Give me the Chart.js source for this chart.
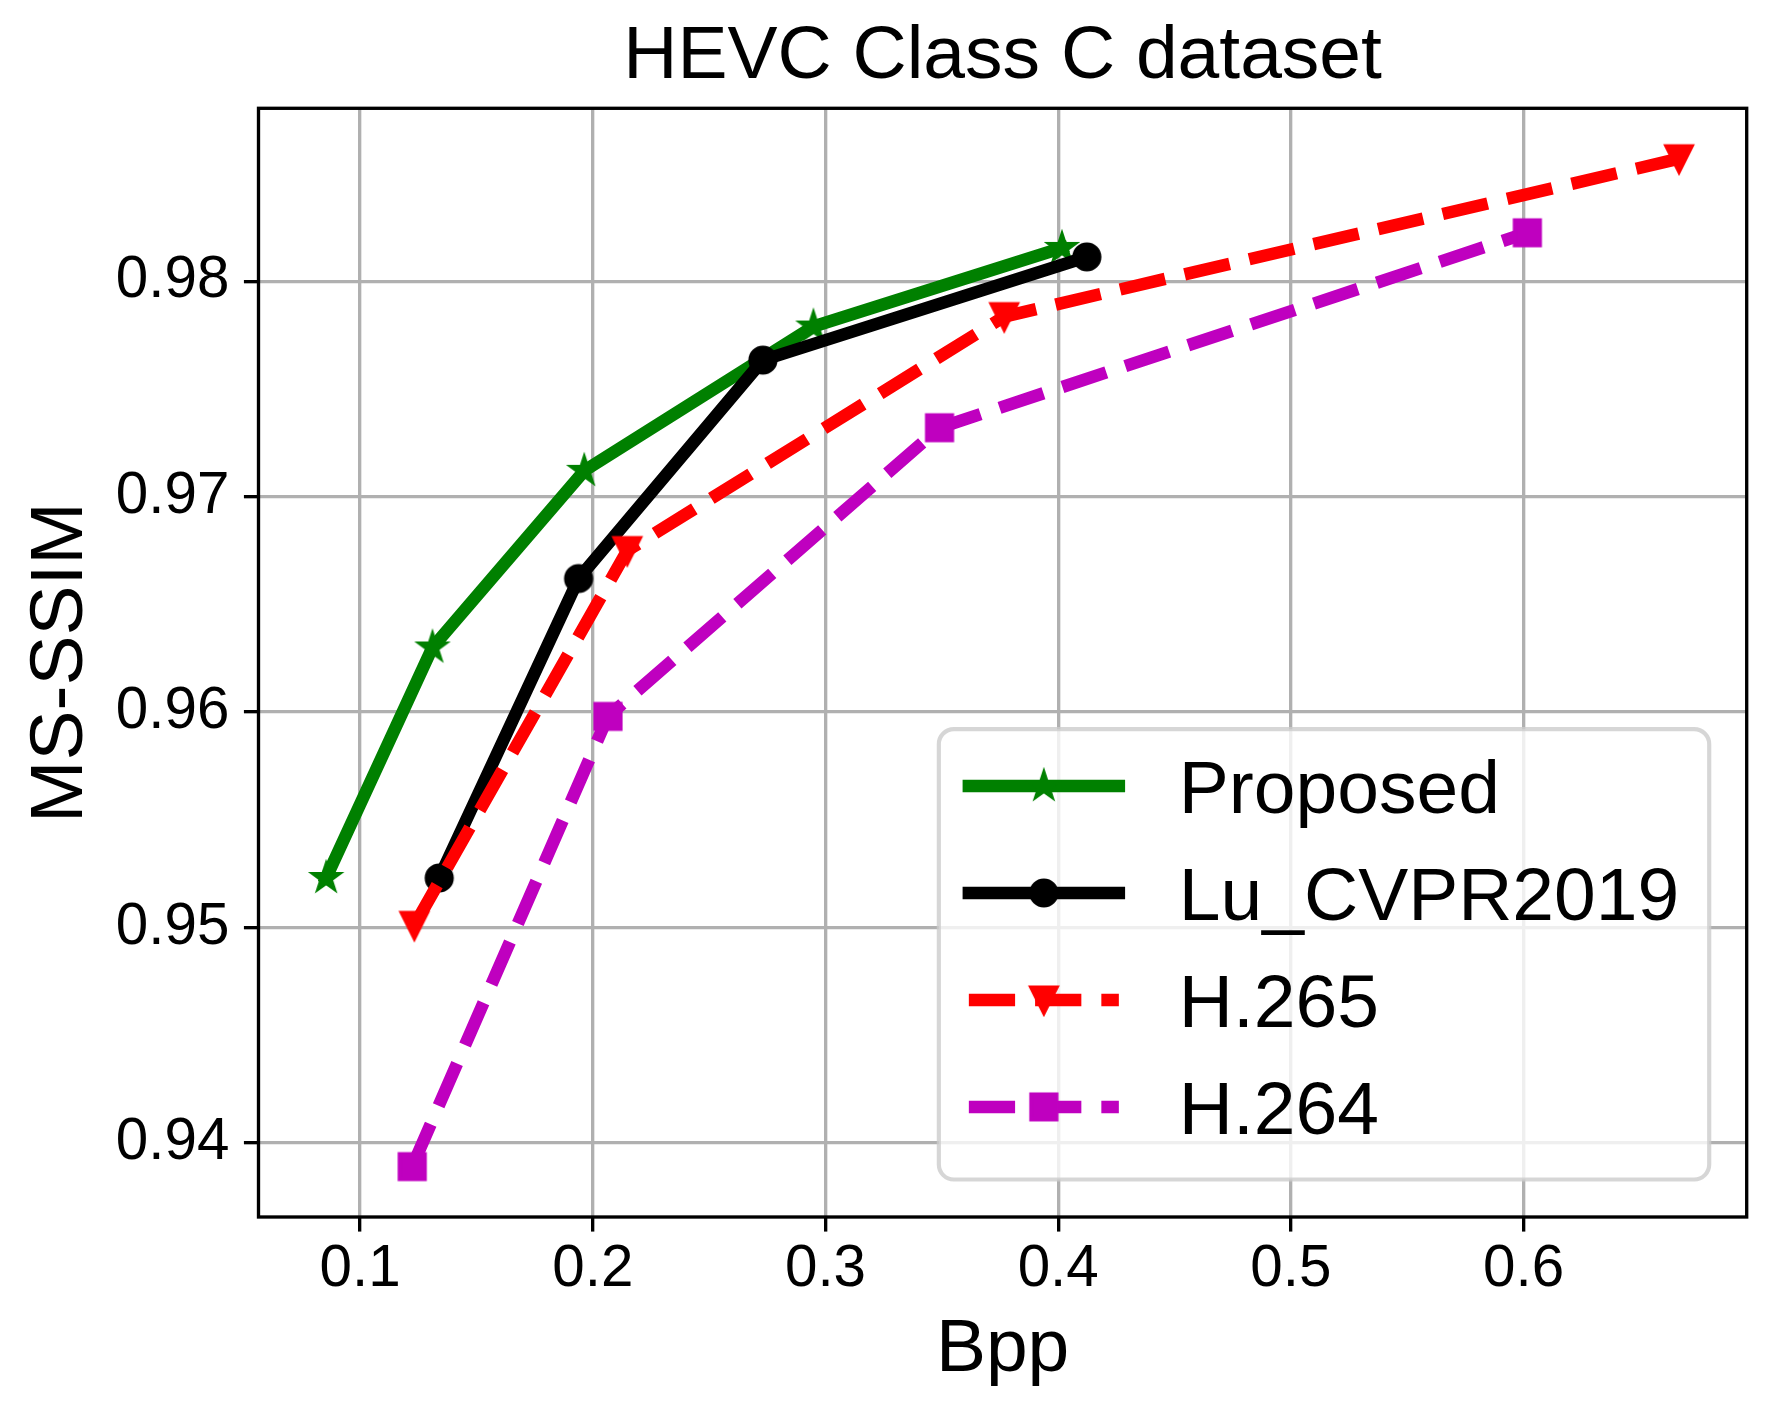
<!DOCTYPE html>
<html lang="en">
<head>
  <meta charset="UTF-8" />
  <title>HEVC Class C dataset</title>
  <script src="https://cdn.jsdelivr.net/npm/chart.js@4.4.1/dist/chart.umd.min.js"></script>
  <style>
    body {
      margin: 0;
      padding: 0;
      background: #fff;
    }
    #wrap {
      width: 1776px;
      height: 1416px;
    }
  </style>
</head>
<body>
  <div id="wrap"><canvas id="rdChart"></canvas></div>

  <script>
    // values
    const bppProposed  = [0.0854, 0.1311, 0.1963, 0.2948, 0.4016];
    const ssimProposed = [0.9523, 0.9630, 0.9712, 0.9779, 0.98155];

    const bppLu  = [0.1340, 0.1939, 0.2731, 0.4123];
    const ssimLu = [0.9523, 0.9662, 0.97634, 0.98113];

    const bppH265  = [0.1233, 0.2148, 0.3768, 0.6668];
    const ssimH265 = [0.9501, 0.9675, 0.97836, 0.98569];

    const bppH264  = [0.1224, 0.2065, 0.3490, 0.6016];
    const ssimH264 = [0.9389, 0.9598, 0.9732, 0.98225];

    const xTicks = [0.1, 0.2, 0.3, 0.4, 0.5, 0.6];
    const yTicks = [0.94, 0.95, 0.96, 0.97, 0.98];

    const FONT = "'Liberation Sans', Arial, sans-serif";
    const PT = 300 / 72;          // the original was saved at 300 dpi
    const LW = 3 * PT;            // line width 3pt
    const DASH = [3.7 * LW, 1.6 * LW];

    Chart.defaults.font.family = FONT;
    Chart.defaults.color = '#000';

    // matplotlib-like markers (ms = 6pt, edge 1pt)
    function makeMarker(shape, color) {
      const R = 3 * PT, S = 46;
      const c = document.createElement('canvas');
      c.width = S; c.height = S;
      const g = c.getContext('2d');
      g.translate(S / 2, S / 2);
      g.beginPath();
      if (shape === 'circle') {
        g.arc(0, 0, R, 0, Math.PI * 2);
      } else if (shape === 'square') {
        g.rect(-R, -R, 2 * R, 2 * R);
      } else if (shape === 'triDown') {
        g.moveTo(0, R); g.lineTo(-R, -R); g.lineTo(R, -R); g.closePath();
      } else if (shape === 'star') {
        for (let k = 0; k < 10; k++) {
          const r = k % 2 ? R * 0.381966 : R;
          const a = -Math.PI / 2 + k * Math.PI / 5;
          g.lineTo(r * Math.cos(a), r * Math.sin(a));
        }
        g.closePath();
      }
      g.fillStyle = color;
      g.fill();
      g.lineWidth = PT;
      g.strokeStyle = color;
      g.lineJoin = shape === 'circle' ? 'round' : 'miter';
      g.stroke();
      return c;
    }

    // extend the data range by 5% like matplotlib does
    function padded(arrs) {
      const all = [].concat(...arrs);
      const lo = Math.min(...all), hi = Math.max(...all);
      const m = (hi - lo) * 0.05;
      return [lo - m, hi + m];
    }
    const [xMin, xMax] = padded([bppProposed, bppLu, bppH265, bppH264]);
    const [yMin, yMax] = padded([ssimProposed, ssimLu, ssimH265, ssimH264]);

    const toPoints = (xs, ys) => xs.map((x, i) => ({x: x, y: ys[i]}));

    // box round the plot area, spines above the lines
    const frame = {
      id: 'frame',
      afterDatasetsDraw(chart) {
        const {ctx, chartArea: a} = chart;
        ctx.save();
        ctx.lineWidth = 0.8 * PT;
        ctx.strokeStyle = '#000';
        ctx.strokeRect(a.left, a.top, a.right - a.left, a.bottom - a.top);
        ctx.restore();
      }
    };

    // legend in the lower right corner of the axes
    const legendBox = {
      id: 'legendBox',
      afterDraw(chart) {
        const {ctx, chartArea} = chart;
        const fs = 18 * PT;
        const sets = chart.data.datasets;
        ctx.save();
        ctx.font = fs + 'px ' + FONT;
        const textW = Math.max(...sets.map(d => ctx.measureText(d.label).width));
        const pad = 0.4 * fs, handleLen = 2 * fs, textPad = 0.8 * fs;
        const rowH = 0.926 * fs, gap = 0.5 * fs;
        const w = 2 * pad + handleLen + textPad + textW;
        const h = 2 * pad + sets.length * rowH + (sets.length - 1) * gap;
        const right = chartArea.right - 0.5 * fs;
        const bottom = chartArea.bottom - 0.5 * fs;
        const left = right - w, top = bottom - h, r = 0.2 * fs;

        ctx.beginPath();
        ctx.moveTo(left + r, top);
        ctx.arcTo(right, top, right, bottom, r);
        ctx.arcTo(right, bottom, left, bottom, r);
        ctx.arcTo(left, bottom, left, top, r);
        ctx.arcTo(left, top, right, top, r);
        ctx.closePath();
        ctx.fillStyle = 'rgba(255,255,255,0.8)';
        ctx.fill();
        ctx.lineWidth = PT;
        ctx.strokeStyle = 'rgba(204,204,204,0.8)';
        ctx.stroke();

        sets.forEach((d, i) => {
          const base = top + pad + i * (rowH + gap) + 0.716 * fs;
          const cy = base - 0.358 * fs;
          const x0 = left + pad, x1 = x0 + handleLen;
          ctx.beginPath();
          ctx.moveTo(x0, cy);
          ctx.lineTo(x1, cy);
          ctx.lineWidth = d.borderWidth;
          ctx.strokeStyle = d.borderColor;
          ctx.lineCap = d.borderCapStyle;
          ctx.setLineDash(d.borderDash || []);
          ctx.stroke();
          ctx.setLineDash([]);
          const m = d.pointStyle;
          ctx.drawImage(m, (x0 + x1) / 2 - m.width / 2, cy - m.height / 2);
          ctx.fillStyle = '#000';
          ctx.textBaseline = 'alphabetic';
          ctx.textAlign = 'left';
          ctx.fillText(d.label, x1 + textPad, base);
        });
        ctx.restore();
      }
    };

    function series(label, xs, ys, color, marker, dashed, order) {
      return {
        label: label,
        data: toPoints(xs, ys),
        showLine: true,
        borderColor: color,
        backgroundColor: color,
        borderWidth: LW,
        borderDash: dashed ? DASH : [],
        borderCapStyle: dashed ? 'butt' : 'square',
        borderJoinStyle: 'round',
        tension: 0,
        pointStyle: makeMarker(marker, color),
        pointRadius: 14,
        pointHoverRadius: 14,
        order: order
      };
    }

    new Chart(document.getElementById('rdChart'), {
      type: 'scatter',
      data: {
        datasets: [
          series('Proposed', bppProposed, ssimProposed, '#008000', 'star', false, 4),
          series('Lu_CVPR2019', bppLu, ssimLu, '#000000', 'circle', false, 3),
          series('H.265', bppH265, ssimH265, '#ff0000', 'triDown', true, 2),
          series('H.264', bppH264, ssimH264, '#bf00bf', 'square', true, 1)
        ]
      },
      options: {
        responsive: true,
        maintainAspectRatio: false,
        animation: false,
        events: [],
        layout: {
          autoPadding: false,
          padding: {left: 0, right: 29.3, top: 0, bottom: 0}
        },
        plugins: {
          legend: {display: false},
          tooltip: {enabled: false},
          title: {
            display: true,
            text: 'HEVC Class C dataset',
            fullSize: false,
            color: '#000',
            font: {size: 18 * PT, weight: 'normal', lineHeight: 1},
            padding: {top: 20, bottom: 13.3}
          }
        },
        scales: {
          x: {
            type: 'linear',
            min: xMin,
            max: xMax,
            afterBuildTicks: axis => { axis.ticks = xTicks.map(v => ({value: v})); },
            afterFit: axis => { axis.height = 199; },
            ticks: {
              autoSkip: false,
              maxRotation: 0,
              padding: 9.2,
              color: '#000',
              font: {size: 14 * PT, lineHeight: 1},
              callback: v => v.toFixed(1)
            },
            grid: {
              color: '#b0b0b0',
              lineWidth: 0.8 * PT,
              tickColor: '#000',
              tickWidth: 0.8 * PT,
              tickLength: 3.5 * PT
            },
            border: {display: false},
            title: {
              display: true,
              text: 'Bpp',
              color: '#000',
              font: {size: 18 * PT, lineHeight: 1},
              padding: {top: 0, bottom: 28.5}
            }
          },
          y: {
            type: 'linear',
            min: yMin,
            max: yMax,
            afterBuildTicks: axis => { axis.ticks = yTicks.map(v => ({value: v})); },
            afterFit: axis => { axis.width = 258.5; },
            ticks: {
              padding: 3.5 * PT,
              color: '#000',
              font: {size: 14 * PT, lineHeight: 1.2},
              callback: v => v.toFixed(2)
            },
            grid: {
              color: '#b0b0b0',
              lineWidth: 0.8 * PT,
              tickColor: '#000',
              tickWidth: 0.8 * PT,
              tickLength: 3.5 * PT
            },
            border: {display: false},
            title: {
              display: true,
              text: 'MS-SSIM',
              color: '#000',
              font: {size: 18 * PT, lineHeight: 1},
              padding: {top: 23.8, bottom: 0}
            }
          }
        }
      },
      plugins: [frame, legendBox]
    });
  </script>
</body>
</html>
